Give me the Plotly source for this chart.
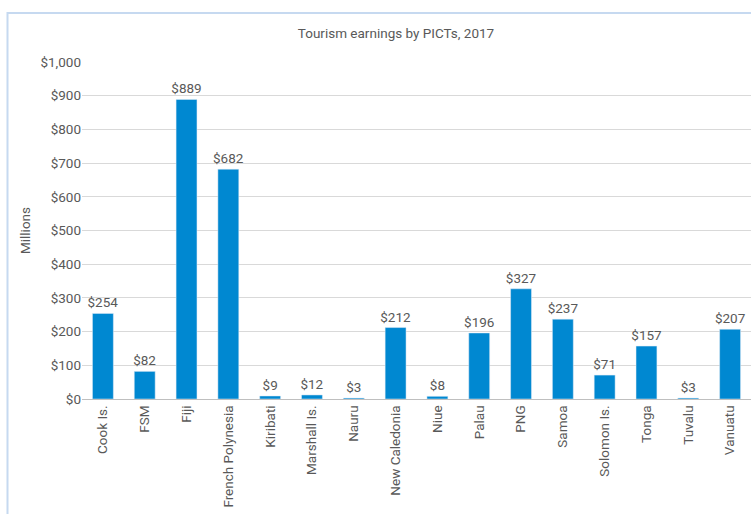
import plotly.graph_objects as go

countries = ["Cook Is.", "FSM", "Fiji", "French Polynesia", "Kiribati", "Marshall Is.",
             "Nauru", "New Caledonia", "Niue", "Palau", "PNG", "Samoa", "Solomon Is.",
             "Tonga", "Tuvalu", "Vanuatu"]
earnings = [254, 82, 889, 682, 9, 12, 3, 212, 8, 196, 327, 237, 71, 157, 3, 207]
tick_vals = [0, 100, 200, 300, 400, 500, 600, 700, 800, 900, 1000]
tick_text = ["$0", "$100", "$200", "$300", "$400", "$500", "$600", "$700", "$800", "$900", "$1,000"]

FONT = "Roboto, Lato, sans-serif"
GREY = "#595959"
FS = 13.5

fig = go.Figure(go.Bar(
    x=countries, y=earnings,
    marker=dict(color="#0088d1"),
    text=["$" + str(v) for v in earnings],
    textposition="outside",
    constraintext="none",
    textfont=dict(family=FONT, size=FS, color=GREY),
    cliponaxis=False,
))

L, R, T, B = 82, 0, 62, 115
W, H = 751, 514
pw, ph = W - L - R, H - T - B

def px(x):
    return (x - L) / pw

def py(y):
    return (H - B - y) / ph

fig.update_layout(
    width=W, height=H,
    margin=dict(l=L, r=R, t=T, b=B, autoexpand=False),
    paper_bgcolor="white", plot_bgcolor="white",
    bargap=0.5,
    showlegend=False,
    title=dict(text="Tourism earnings by PICTs, 2017", x=(396 - L) / pw,
               xref="paper", xanchor="center", y=1 - 33 / H, yanchor="middle",
               font=dict(family=FONT, size=FS, color=GREY)),
    font=dict(family=FONT, color=GREY),
    xaxis=dict(tickangle=-90, tickfont=dict(family=FONT, size=FS, color=GREY),
               showline=True, linecolor="#bfbfbf", linewidth=1, ticks="",
               automargin=False),
    yaxis=dict(range=[0, 1000], tickvals=tick_vals, ticktext=tick_text,
               tickfont=dict(family=FONT, size=FS, color=GREY),
               gridcolor="#d9d9d9", zeroline=False, ticks="", ticklen=0,
               automargin=False,
               title=dict(text="Millions", font=dict(family=FONT, size=FS, color=GREY),
                          standoff=6)),
    shapes=[dict(type="rect", xref="paper", yref="paper",
                 x0=px(7.5), x1=px(790), y0=py(560), y1=py(13),
                 line=dict(color="#c6d9f0", width=2), layer="below")],
)
fig.write_html("out.html", config={"displayModeBar": False},
               post_script="document.body.style.margin='0';document.body.style.overflow='hidden';")
